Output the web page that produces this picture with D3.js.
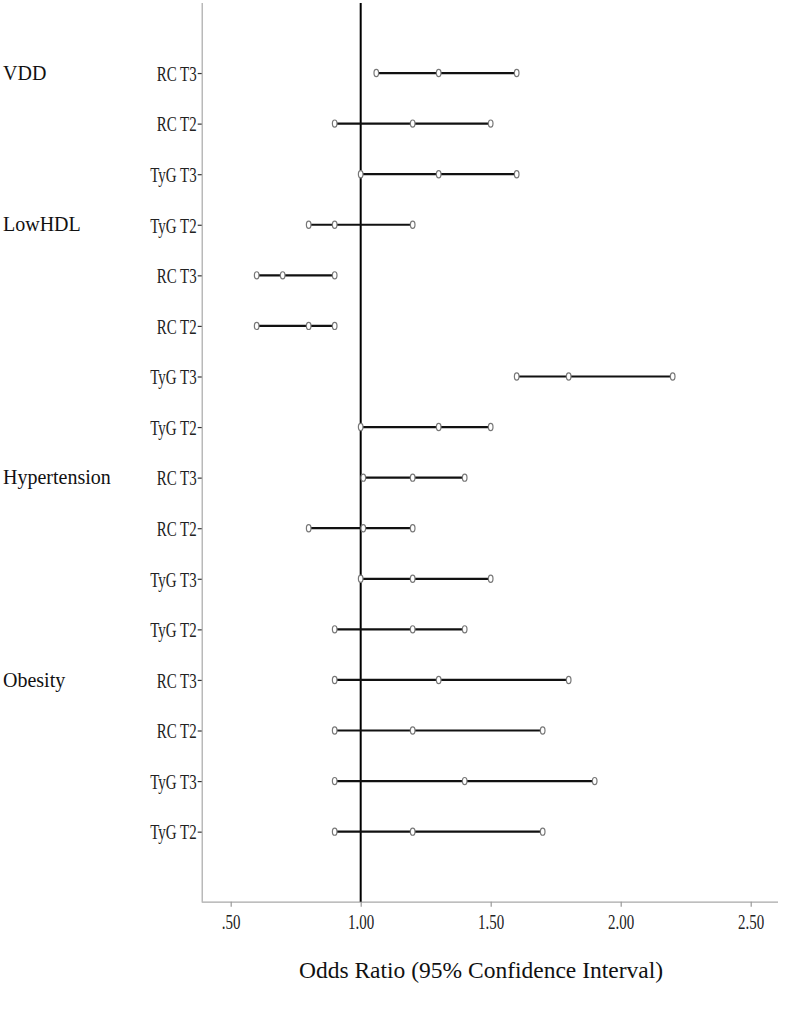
<!DOCTYPE html>
<html>
<head>
<meta charset="utf-8">
<script src="https://cdn.jsdelivr.net/npm/d3@7/dist/d3.min.js"></script>
<style>
  html, body { margin: 0; padding: 0; background: #fff; }
  svg { display: block; }
</style>
</head>
<body>
<svg id="chart" width="787" height="1011"></svg>
<script>
// ---- data ----
const rowLabels = ["RC T3","RC T2","TyG T3","TyG T2","RC T3","RC T2","TyG T3","TyG T2",
                   "RC T3","RC T2","TyG T3","TyG T2","RC T3","RC T2","TyG T3","TyG T2"];
const oddsRatio = [1.30,1.20,1.30,0.90,0.70,0.80,1.80,1.30,1.20,1.01,1.20,1.20,1.30,1.20,1.40,1.20];
const lowerCI   = [1.06,0.90,1.00,0.80,0.60,0.60,1.60,1.00,1.01,0.80,1.00,0.90,0.90,0.90,0.90,0.90];
const upperCI   = [1.60,1.50,1.60,1.20,0.90,0.90,2.20,1.50,1.40,1.20,1.50,1.40,1.80,1.70,1.90,1.70];
const groupLabels = ["VDD","LowHDL","Hypertension","Obesity"];
const groupRowIndex = [0,3,8,12];
const xTicks = [0.5,1.0,1.5,2.0,2.5];
const xTickLabels = [".50","1.00","1.50","2.00","2.50"];
const xTitle = "Odds Ratio (95% Confidence Interval)";
const refValue = 1.0;

// ---- layout ----
const plotLeft = 201.7, plotRight = 778, plotTop = 3, plotBottom = 901.7;
const svg = d3.select("#chart");
const serif = "'Liberation Serif','Times New Roman',serif";
const squeeze = 0.68;

const x = d3.scaleLinear().domain([0.3885, 2.605]).range([plotLeft, plotRight]);
const idx = d3.range(rowLabels.length);
const y = d3.scalePoint().domain(idx).range([plotTop, plotBottom]).padding(1.385);

// y axis
const yAxis = svg.append("g")
  .attr("transform", `translate(${plotLeft},0)`)
  .call(d3.axisLeft(y).tickSize(4).tickPadding(1).tickFormat(i => rowLabels[i]));
yAxis.select(".domain").attr("stroke", "#a8a8a8").attr("stroke-width", 1.2)
  .attr("d", `M0.5,${plotTop}V${plotBottom}`);
yAxis.selectAll(".tick line").attr("stroke", "#333").attr("stroke-width", 1.2);
yAxis.selectAll(".tick text")
  .attr("font-family", serif).attr("font-size", 22).attr("fill", "#222")
  .attr("dy", "0.33em")
  .attr("transform", `scale(${squeeze},1)`)
  .attr("x", -5 / squeeze);

// x axis
const xAxis = svg.append("g")
  .attr("transform", `translate(0,${plotBottom})`)
  .call(d3.axisBottom(x).tickValues(xTicks).tickSize(5).tickPadding(7)
        .tickFormat((d, i) => xTickLabels[i]));
xAxis.select(".domain").attr("stroke", "#a8a8a8").attr("stroke-width", 1.2)
  .attr("d", `M${plotLeft},0.5H${plotRight}`);
xAxis.selectAll(".tick line").attr("stroke", "#999").attr("stroke-width", 1.2);
xAxis.selectAll(".tick text")
  .attr("font-family", serif).attr("font-size", 22).attr("fill", "#222")
  .attr("transform", `scale(${squeeze},1)`);

// reference line
svg.append("line")
  .attr("x1", x(refValue)).attr("x2", x(refValue))
  .attr("y1", plotTop).attr("y2", plotBottom)
  .attr("stroke", "#000").attr("stroke-width", 2);

// CI lines
svg.append("g").selectAll("line").data(idx).join("line")
  .attr("x1", i => x(lowerCI[i])).attr("x2", i => x(upperCI[i]))
  .attr("y1", i => y(i)).attr("y2", i => y(i))
  .attr("stroke", "#111").attr("stroke-width", 2.2);

// markers
const pts = [];
idx.forEach(i => { pts.push([lowerCI[i], i]); pts.push([oddsRatio[i], i]); pts.push([upperCI[i], i]); });
svg.append("g").selectAll("ellipse").data(pts).join("ellipse")
  .attr("cx", d => x(d[0])).attr("cy", d => y(d[1]))
  .attr("rx", 2.3).attr("ry", 3.6)
  .attr("fill", "#fff").attr("stroke", "#777").attr("stroke-width", 1.2);

// group labels
svg.append("g").selectAll("text").data(groupLabels).join("text")
  .attr("x", 3)
  .attr("y", (d, i) => y(groupRowIndex[i]))
  .attr("dy", "0.33em")
  .attr("font-family", serif).attr("font-size", 20).attr("fill", "#111")
  .text(d => d);

// x title
svg.append("text")
  .attr("x", 481).attr("y", 978)
  .attr("text-anchor", "middle")
  .attr("font-family", serif).attr("font-size", 23.5).attr("fill", "#111")
  .text(xTitle);
</script>
</body>
</html>
